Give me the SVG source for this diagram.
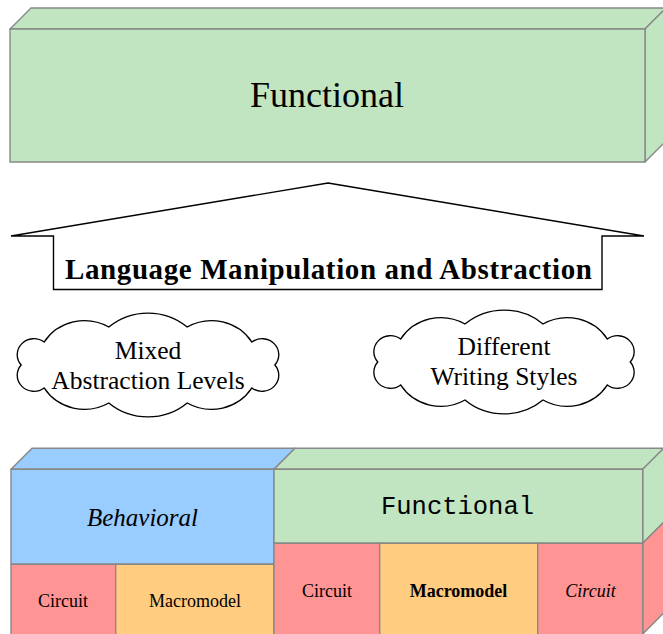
<svg xmlns="http://www.w3.org/2000/svg" width="663" height="634" viewBox="0 0 663 634">
<style>
.box{stroke:#888888;stroke-width:1.4;stroke-linejoin:round}
.g{fill:#C0E5C0}.b{fill:#99CCFF}.p{fill:#FF9494}.o{fill:#FFCC80}
.serif{font-family:"Liberation Serif","Times New Roman",serif;fill:#000}
.mono{font-family:"Liberation Mono","Courier New",monospace;fill:#000}
.cloud{fill:#fff;stroke:#000;stroke-width:1.3}
</style>
<defs>
<path id="cloudShape" class="cloud" d="M122,0 A16,16 0 0 1 99.9,22.9 A46,46 0 0 1 37.7,38 A58,58 0 0 1 -37.7,38 A46,46 0 0 1 -99.9,22.9 A16,16 0 0 1 -122,0 A16,16 0 0 1 -99.9,-22.9 A46,46 0 0 1 -37.7,-38 A58,58 0 0 1 37.7,-38 A46,46 0 0 1 99.9,-22.9 A16,16 0 0 1 122,0 Z"/>
</defs>
<rect width="663" height="634" fill="#fff"/>

<g id="functional-top">
<polygon class="box g" points="10,29 31,8 666,8 645,29"/>
<polygon class="box g" points="645,29 666,8 666,141 645,162"/>
<rect class="box g" x="10" y="29" width="635" height="133"/>
<text class="serif" x="327" y="107" font-size="36" text-anchor="middle">Functional</text>
</g>

<g id="connectors">
<g id="arrow">
<polygon points="328,183 644,236 602,236 602,289.5 53.5,289.5 53.5,236 11,236" fill="#fff" stroke="#000" stroke-width="1.4" stroke-linejoin="miter"/>
<text class="serif" x="65" y="279" font-size="29" font-weight="bold" textLength="527" lengthAdjust="spacing">Language Manipulation and Abstraction</text>
</g>
</g>

<g id="cloud-mixed">
<use href="#cloudShape" transform="translate(148,365) scale(1.04,1)"/>
<text class="serif" font-size="25.5" text-anchor="middle"><tspan x="148" y="359">Mixed</tspan><tspan x="148" y="389">Abstraction Levels</tspan></text>
</g>

<g id="cloud-writing">
<use href="#cloudShape" transform="translate(504,362) scale(1.035,1)"/>
<text class="serif" font-size="25.5" text-anchor="middle"><tspan x="504" y="355">Different</tspan><tspan x="504" y="385">Writing Styles</tspan></text>
</g>

<g id="behavioral">
<polygon class="box b" points="11,469.3 32,448.3 295,448.3 274,469.3"/>
<rect class="box b" x="11" y="469.3" width="263" height="95"/>
<text class="serif" x="142.5" y="526" font-size="25" font-style="italic" text-anchor="middle">Behavioral</text>
</g>
<g id="behavioral-circuit">
<rect class="box p" x="11" y="564.3" width="104.7" height="80"/>
<text class="serif" x="63" y="607" font-size="18" text-anchor="middle">Circuit</text>
</g>
<g id="behavioral-macromodel">
<rect class="box o" x="115.7" y="564.3" width="158.3" height="80"/>
<text class="serif" x="195" y="607" font-size="18" text-anchor="middle">Macromodel</text>
</g>

<g id="functional-bottom">
<polygon class="box g" points="274,469.3 295,448.3 664,448.3 643,469.3"/>
<polygon class="box g" points="642.7,469.3 663.7,448.3 663.7,522.3 642.7,543.3"/>
<polygon class="box p" points="642.7,543.3 663.7,522.3 663.7,613 642.7,634"/>
<rect class="box g" x="274" y="469.3" width="368.7" height="74"/>
<text class="mono" x="457.5" y="514" font-size="25.5" text-anchor="middle">Functional</text>
</g>
<g id="functional-circuit">
<rect class="box p" x="274" y="543.3" width="105.7" height="100"/>
<text class="serif" x="327" y="597" font-size="18" text-anchor="middle">Circuit</text>
</g>
<g id="functional-macromodel">
<rect class="box o" x="379.7" y="543.3" width="158" height="100"/>
<text class="serif" x="458.5" y="597" font-size="18" font-weight="bold" text-anchor="middle">Macromodel</text>
</g>
<g id="functional-circuit-italic">
<rect class="box p" x="537.7" y="543.3" width="105" height="100"/>
<text class="serif" x="590.5" y="597" font-size="18" font-style="italic" text-anchor="middle">Circuit</text>
</g>
</svg>
